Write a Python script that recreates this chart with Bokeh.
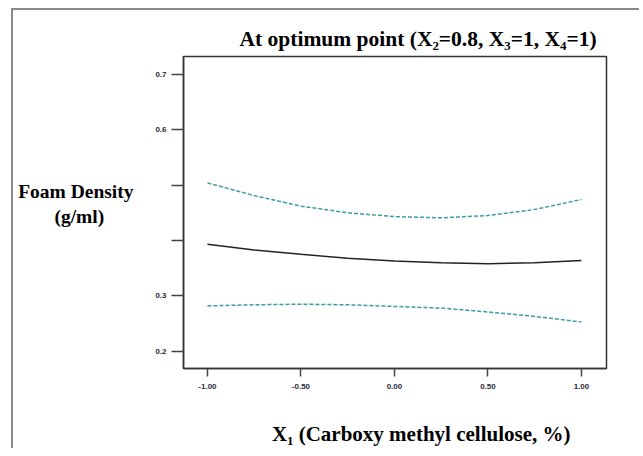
from bokeh.plotting import figure
from bokeh.models import Range1d, FixedTicker, LinearAxis
from bokeh.embed import file_html
from bokeh.resources import INLINE

x_vals = [-1.0, -0.75, -0.5, -0.25, 0.0, 0.25, 0.5, 0.75, 1.0]
upper = [0.504, 0.481, 0.462, 0.450, 0.443, 0.441, 0.445, 0.456, 0.474]
predicted = [0.393, 0.383, 0.375, 0.368, 0.363, 0.360, 0.358, 0.360, 0.364]
lower = [0.282, 0.284, 0.285, 0.284, 0.281, 0.278, 0.271, 0.263, 0.253]

x_ticks = [-1.0, -0.5, 0.0, 0.5, 1.0]
x_tick_labels = ["-1.00", "-0.50", "0.00", "0.50", "1.00"]
y_ticks = [0.2, 0.3, 0.4, 0.5, 0.6, 0.7]
y_tick_labels = ["0.2", "0.3", "", "", "0.6", "0.7"]

title_text = "At optimum point (X\u2082=0.8, X\u2083=1, X\u2084=1)"
ylabel_lines = ["Foam Density", "(g/ml)"]
ylabel_pos = 0.4653
xlabel_text = "X\u2081 (Carboxy methyl cellulose, %)"

font = "Liberation Serif"

p = figure(width=628, height=440, output_backend="svg", toolbar_location=None,
           x_range=Range1d(-1.128, 1.134), y_range=Range1d(0.169, 0.732),
           min_border_left=170, min_border_top=46, min_border_right=35, min_border_bottom=82)
p.margin = (8, 0, 0, 11)
p.styles = {"border-left": "2px solid #8a8a8a", "border-top": "2px solid #8a8a8a"}
p.grid.visible = False
p.outline_line_color = "#333333"
p.outline_line_width = 1.5
p.background_fill_color = "white"
p.border_fill_color = "white"

p.title.text = title_text
p.title.align = "left"
p.title.offset = 56
p.title.text_font = font
p.title.text_font_size = "21.5px"
p.title.text_font_style = "bold"
p.title.text_color = "black"
p.title.standoff = 12

for ax in (p.xaxis[0], p.yaxis[0]):
    ax.axis_line_color = "#333333"
    ax.axis_line_width = 1.5
    ax.major_tick_line_color = "#444444"
    ax.major_tick_line_width = 1.5
    ax.major_tick_in = 0
    ax.minor_tick_line_color = None
    ax.major_label_text_font = "Liberation Sans"
    ax.major_label_text_font_size = "8px"
    ax.major_label_text_font_style = "bold"
    ax.major_label_text_color = "#2a2a3a"

p.xaxis.ticker = FixedTicker(ticks=x_ticks)
p.xaxis.major_label_overrides = dict(zip(x_ticks, x_tick_labels))
p.xaxis.major_tick_out = 8
p.xaxis.major_label_standoff = 7
p.yaxis.ticker = FixedTicker(ticks=y_ticks)
p.yaxis.major_label_overrides = dict(zip(y_ticks, y_tick_labels))
p.yaxis.major_tick_out = 12
p.yaxis.major_label_standoff = 5

# x-axis title, nudged right of the frame centre as in the original
xax = p.xaxis[0]
xax.axis_label = "\u00a0" * 10 + xlabel_text
xax.axis_label_text_font = font
xax.axis_label_text_font_size = "21px"
xax.axis_label_text_font_style = "bold"
xax.axis_label_text_color = "black"
xax.axis_label_standoff = 30

# horizontal two-line y title
pad = "\u00a0" * 6
lab_ax = LinearAxis(ticker=FixedTicker(ticks=[ylabel_pos]),
                    major_label_overrides={ylabel_pos: ylabel_lines[0] + "\n" + ylabel_lines[1] + pad})
lab_ax.axis_line_color = None
lab_ax.major_tick_line_color = None
lab_ax.minor_tick_line_color = None
lab_ax.major_tick_out = 0
lab_ax.major_tick_in = 0
lab_ax.major_label_text_font = font
lab_ax.major_label_text_font_size = "19.5px"
lab_ax.major_label_text_font_style = "bold"
lab_ax.major_label_text_color = "black"
lab_ax.major_label_standoff = 19
p.add_layout(lab_ax, "left")

teal = "#3a9e9e"
p.line(x_vals, upper, line_color=teal, line_width=1.5, line_dash="4 2")
p.line(x_vals, lower, line_color=teal, line_width=1.5, line_dash="4 2")
p.line(x_vals, predicted, line_color="#222222", line_width=1.5)

open("out.html", "w").write(file_html(p, INLINE))
